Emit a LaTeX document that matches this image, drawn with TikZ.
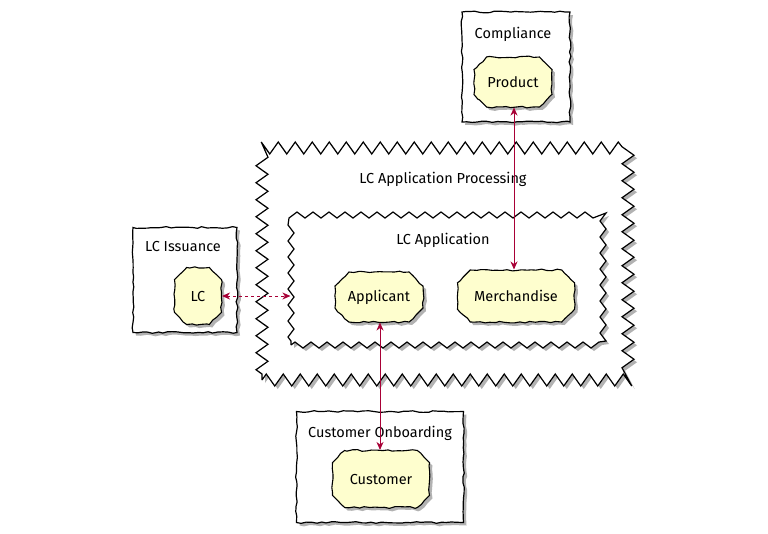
\documentclass[tikz,border=0pt]{standalone}
\usepackage{fontspec}
\setmainfont{Fira Sans}
\usetikzlibrary{arrows.meta,shapes.misc,decorations.pathmorphing,shadows}
\pgfmathsetseed{7}
\definecolor{conncol}{HTML}{A80036}
\definecolor{nodefill}{HTML}{FEFECE}
\tikzset{
  sketch/.style={decorate, decoration={random steps, segment length=5pt, amplitude=0.9pt}},
  shade3/.style={drop shadow={shadow xshift=3pt, shadow yshift=-3pt, opacity=0.3, fill=black}},
  frame/.style={draw=black, fill=white, line width=1.2pt, inner sep=0pt, sketch, shade3},
  cloudframe/.style={draw=black, fill=white, line width=1.2pt, inner sep=0pt, decorate, shade3},
  comp/.style={shape=chamfered rectangle, chamfered rectangle xsep=7pt, chamfered rectangle ysep=7pt,
     draw=black, fill=nodefill, line width=1.1pt, inner sep=0pt, sketch, shade3, font=\fontsize{14.5}{17}\selectfont},
  titletext/.style={inner sep=0pt, font=\fontsize{14.5}{17}\selectfont},
  conn/.style={draw=conncol, line width=0.9pt, {Stealth[length=8pt,width=7pt,inset=2.5pt]}-{Stealth[length=8pt,width=7pt,inset=2.5pt]}},
}
\begin{document}
\begin{tikzpicture}[x=1pt,y=-1pt]
\useasboundingbox (0,0) rectangle (768,533);
\fill[white] (0,0) rectangle (768,533);

% Compliance
\node[frame, minimum width=108pt, minimum height=110pt] (compl) at (516,67) {};
\node[titletext] (complt) at (513,34) {Compliance};
\node[comp, minimum width=78pt, minimum height=50pt] (prod) at (513,82) {Product};

% LC Issuance
\node[frame, minimum width=104pt, minimum height=105pt] (iss) at (185,280) {};
\node[titletext] (isst) at (183,247) {LC Issuance};
\node[comp, minimum width=47pt, minimum height=57pt] (lc) at (198,296) {LC};

% Customer Onboarding
\node[frame, minimum width=167pt, minimum height=111pt] (onb) at (380,467) {};
\node[titletext] (onbt) at (380,433) {Customer Onboarding};
\node[comp, minimum width=97pt, minimum height=57pt] (cust) at (381,479) {Customer};

% LC Application Processing
\node[cloudframe, decoration={zigzag, segment length=17pt, amplitude=6pt}, minimum width=366pt, minimum height=232pt] (proc) at (445,264) {};
\node[titletext] (proct) at (443,179) {LC Application Processing};

% LC Application
\node[cloudframe, decoration={zigzag, segment length=16pt, amplitude=3pt}, minimum width=312pt, minimum height=130pt] (lcapp) at (447,280) {};
\node[titletext] (lcappt) at (443,240) {LC Application};
\node[comp, minimum width=88pt, minimum height=50pt] (app) at (379,297) {Applicant};
\node[comp, minimum width=117pt, minimum height=52pt] (merch) at (516,296) {Merchandise};

% connectors
\draw[conn] (prod.south -| 514,0) -- (merch.north -| 514,0);
\draw[conn, dashed] (lc.east) -- (lc.east -| lcapp.west);
\draw[conn] (app.south -| 380,0) -- (cust.north -| 380,0);
\end{tikzpicture}
\end{document}
